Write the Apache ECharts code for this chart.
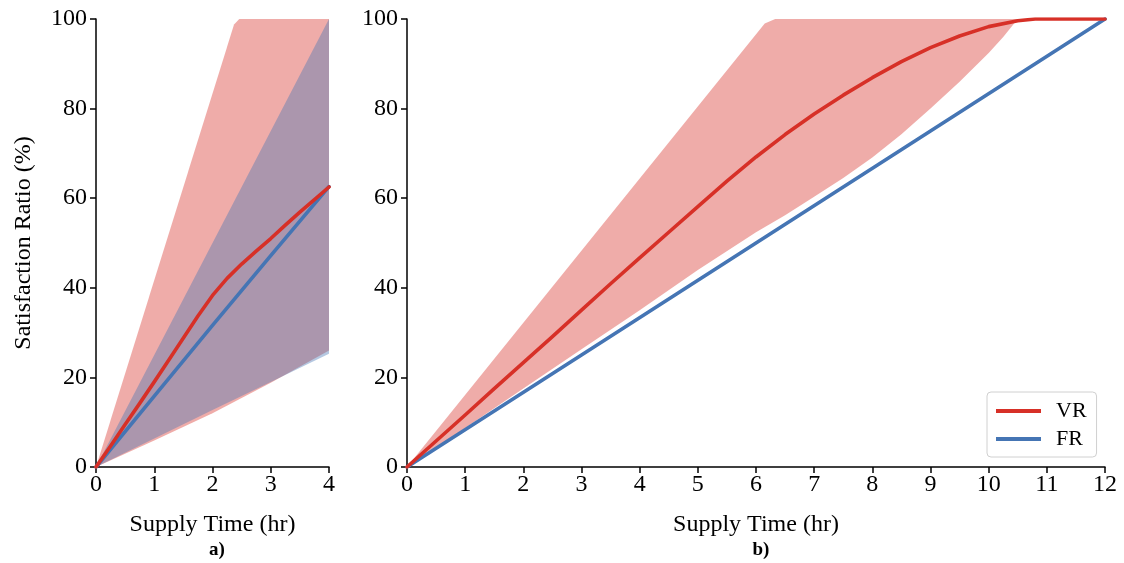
<!DOCTYPE html>
<html>
<head>
<meta charset="utf-8">
<script src="https://cdn.jsdelivr.net/npm/echarts@6/dist/echarts.min.js"></script>
<style>
html,body{margin:0;padding:0;background:#fff;}
#chart{width:1124px;height:563px;}
</style>
</head>
<body>
<div id="chart"></div>
<script>
// ---- Data ----
const xTicksA = [0, 1, 2, 3, 4];
const xTicksB = [0, 1, 2, 3, 4, 5, 6, 7, 8, 9, 10, 11, 12];
const yTicks = [0, 20, 40, 60, 80, 100];

// Panel a)
const vrMeanA = [[0,0],[0.25,4.7],[0.5,9.5],[0.75,14.2],[1,19],[1.25,23.9],[1.5,28.8],[1.75,33.7],[2,38.3],[2.25,42.1],[2.5,45.3],[2.75,48.2],[3,51],[3.25,54],[3.5,56.9],[3.75,59.7],[4,62.5]];
const frMeanA = [[0,0],[1,15.8],[2,31.6],[3,47.2],[4,62.6]];
const vrUpperA = [[0,0],[2.37,98.8],[2.46,100],[4,100]];
const vrLowerA = [[0,0],[1,5.9],[2,12.0],[3,18.8],[4,26.0]];
const frUpperA = [[0,0],[4,100]];
const frLowerA = [[0,0],[1,6.35],[2,12.7],[3,19.0],[4,25.3]];

// Panel b)
const vrMeanB = [[0,0],[0.5,5.8],[1,11.6],[1.5,17.5],[2,23.3],[2.5,29.1],[3,35],[3.5,40.9],[4,46.7],[4.5,52.4],[5,58.1],[5.5,63.8],[6,69.2],[6.5,74.2],[7,78.8],[7.5,83],[8,86.9],[8.5,90.5],[9,93.6],[9.5,96.2],[10,98.3],[10.5,99.6],[10.8,100],[12,100]];
const frMeanB = [[0,0],[12,100]];
const vrUpperB = [[0,0],[6.15,99],[6.33,100],[10.5,100]];
const vrLowerB = [[0,0],[1,8.7],[2,17.5],[3,26.3],[4,35],[5,44],[6,52.4],[6.5,56.2],[7,60.3],[7.5,64.5],[8,69.1],[8.5,74.3],[9,80],[9.5,86],[10,92.4],[10.25,96],[10.5,100]];

const RED = '#d73027';
const BLUE = '#4575b4';
const RED_FILL = 'rgba(215,48,39,0.4)';
const BLUE_FILL = 'rgba(69,117,180,0.4)';
const FONT = 'Liberation Serif';

function band(upper, lower, fill, idx) {
  return {
    type: 'custom',
    xAxisIndex: idx, yAxisIndex: idx,
    silent: true,
    clip: true,
    data: [[0, 0]],
    encode: {x: 0, y: 1},
    renderItem: function (params, api) {
      const pts = upper.map(p => api.coord(p))
        .concat(lower.slice().reverse().map(p => api.coord(p)));
      return {type: 'polygon', shape: {points: pts}, style: {fill: fill, stroke: null}};
    }
  };
}
function line(name, data, color, idx) {
  return {
    type: 'line', name: name, data: data,
    xAxisIndex: idx, yAxisIndex: idx,
    symbol: 'none', smooth: false,
    lineStyle: {color: color, width: 3.6, join: 'round', cap: 'round'},
    itemStyle: {color: color},
    silent: true
  };
}
function xAxis(idx, max) {
  return {
    type: 'value', gridIndex: idx, min: 0, max: max, interval: 1,
    name: 'Supply Time (hr)', nameLocation: 'middle', nameGap: 46,
    nameTextStyle: {fontFamily: FONT, fontSize: 24, color: '#000'},
    axisLine: {show: true, lineStyle: {color: '#000', width: 1.5}},
    axisTick: {show: true, length: 6, lineStyle: {color: '#000', width: 1.5}},
    axisLabel: {fontFamily: FONT, fontSize: 24, color: '#000', margin: 6},
    splitLine: {show: false}
  };
}
function yAxis(idx, withName) {
  const a = {
    type: 'value', gridIndex: idx, min: 0, max: 100, interval: 20,
    axisLine: {show: true, lineStyle: {color: '#000', width: 1.5}},
    axisTick: {show: true, length: 6, lineStyle: {color: '#000', width: 1.5}},
    axisLabel: {fontFamily: FONT, fontSize: 24, color: '#000', margin: 9},
    splitLine: {show: false}
  };
  if (withName) {
    a.name = 'Satisfaction Ratio (%)';
    a.nameLocation = 'middle';
    a.nameGap = 60;
    a.nameTextStyle = {fontFamily: FONT, fontSize: 24, color: '#000'};
  }
  return a;
}

const chart = echarts.init(document.getElementById('chart'), null, {renderer: 'canvas'});
chart.setOption({
  backgroundColor: '#fff',
  animation: false,
  title: [
    {text: 'a)', left: 212, top: 536, textAlign: 'center',
     textStyle: {fontFamily: FONT, fontSize: 19, fontWeight: 'bold', color: '#000'}},
    {text: 'b)', left: 756, top: 536, textAlign: 'center',
     textStyle: {fontFamily: FONT, fontSize: 19, fontWeight: 'bold', color: '#000'}}
  ],
  grid: [
    {left: 96, right: 795, top: 19, bottom: 96},
    {left: 407, right: 19, top: 19, bottom: 96}
  ],
  xAxis: [xAxis(0, 4), xAxis(1, 12)],
  yAxis: [yAxis(0, true), yAxis(1, false)],
  legend: {
    orient: 'vertical', left: 987, top: 392,
    padding: [8, 10, 7, 9],
    itemGap: 6,
    itemWidth: 45, itemHeight: 4,
    borderColor: '#d0d0d0', borderWidth: 1, borderRadius: 4,
    backgroundColor: 'rgba(255,255,255,0.8)',
    textStyle: {fontFamily: FONT, fontSize: 22, color: '#000', padding: [0, 0, 0, 10]},
    data: [{name: 'VR', icon: 'rect'}, {name: 'FR', icon: 'rect'}]
  },
  series: [
    band(vrUpperA, vrLowerA, RED_FILL, 0),
    band(frUpperA, frLowerA, BLUE_FILL, 0),
    line('FR', frMeanA, BLUE, 0),
    line('VR', vrMeanA, RED, 0),
    band(vrUpperB, vrLowerB, RED_FILL, 1),
    line('FR', frMeanB, BLUE, 1),
    line('VR', vrMeanB, RED, 1)
  ]
});
</script>
</body>
</html>
